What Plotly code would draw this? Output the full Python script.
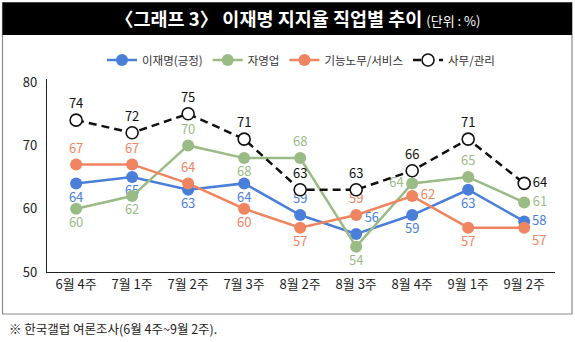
import plotly.graph_objects as go

# Survey weeks (x categories)
weeks = ["6월 4주", "7월 1주", "7월 2주", "7월 3주", "8월 2주", "8월 3주", "8월 4주", "9월 1주", "9월 2주"]

# Approval rates by occupation (%)
overall = [64, 65, 63, 64, 59, 56, 59, 63, 58]          # 이재명(긍정)
self_employed = [60, 62, 70, 68, 68, 54, 64, 65, 61]    # 자영업
labor_service = [67, 67, 64, 60, 57, 59, 62, 57, 57]    # 기능노무/서비스
office_mgmt = [74, 72, 75, 71, 63, 63, 66, 71, 64]      # 사무/관리

y_ticks = [50, 60, 70, 80]

# Label placement for each point (None = placed separately as an annotation)
pos_overall = ["bottom center", "bottom center", "bottom center", "bottom center", "top center",
               "top right", "bottom center", "bottom center", None]
pos_self = ["bottom center", "bottom center", "top center", "bottom center", "top center",
            "bottom center", "middle left", "top center", "middle right"]
pos_labor = ["top center", "top center", "top center", "bottom center", "bottom center",
             "top center", "middle right", "bottom center", None]
pos_office = ["top center"] * 8 + ["middle right"]

# Nudges (pixels) for the crowded labels at the last week
nudge_overall = {8: 2}
nudge_labor = {8: -12}

BLUE = "#4a7fd9"
GREEN = "#9bbb86"
ORANGE = "#ee8560"
BLACK = "#111111"
FONT = "Noto Sans CJK KR"

# plot area in pixels: x 47..555, y 79..272
PX_L, PX_R, PX_T, PX_B = 47, 555, 79, 272
PW, PH = PX_R - PX_L, PX_B - PX_T


def px_x(px):
    return (px - PX_L) / PW


def px_y(py):
    return (PX_B - py) / PH


fig = go.Figure()
label_notes = []


def add_series(name, values, color, positions, dash=None, open_marker=False, nudges=None):
    texts = [str(v) if p is not None else "" for v, p in zip(values, positions)]
    tpos = [p if p is not None else "middle right" for p in positions]
    fig.add_trace(go.Scatter(
        x=weeks, y=values, name=name,
        mode="lines+markers+text",
        text=texts,
        textposition=tpos,
        textfont=dict(family=FONT, size=13, color=color),
        line=dict(color=color, width=2.5, dash=dash),
        marker=dict(
            size=12,
            color="white" if open_marker else color,
            line=dict(color=color, width=1.6 if open_marker else 0),
        ),
        cliponaxis=False,
    ))
    for i, shift in (nudges or {}).items():
        label_notes.append(dict(
            x=weeks[i], y=values[i], xref="x", yref="y",
            text=str(values[i]), showarrow=False,
            xanchor="left", yanchor="middle", xshift=7, yshift=shift,
            borderpad=0,
            font=dict(family=FONT, size=13, color=color),
        ))


add_series("이재명(긍정)", overall, BLUE, pos_overall, nudges=nudge_overall)
add_series("자영업", self_employed, GREEN, pos_self)
add_series("기능노무/서비스", labor_service, ORANGE, pos_labor, nudges=nudge_labor)
add_series("사무/관리", office_mgmt, BLACK, pos_office, dash="8px,5px", open_marker=True)

fig.update_layout(
    width=575, height=342,
    margin=dict(l=PX_L, r=575 - PX_R, t=PX_T, b=342 - PX_B),
    paper_bgcolor="white",
    plot_bgcolor="white",
    font=dict(family=FONT, size=13, color="#222222"),
    showlegend=True,
    legend=dict(
        orientation="h",
        x=0.5, xanchor="center",
        y=px_y(60), yanchor="middle",
        font=dict(family=FONT, size=11.5, color="#333333"),
        itemwidth=30,
        tracegroupgap=0,
        bgcolor="rgba(0,0,0,0)",
    ),
    xaxis=dict(
        type="category",
        range=[-0.52, 8.55],
        showgrid=False,
        zeroline=False,
        showline=True, linecolor="#222222", linewidth=1.2,
        ticks="",
        tickfont=dict(family=FONT, size=13, color="#222222"),
    ),
    yaxis=dict(
        range=[50, 80.5],
        tickvals=y_ticks,
        showgrid=False,
        zeroline=False,
        showline=True, linecolor="#222222", linewidth=1.2,
        ticks="",
        ticklabelstandoff=6,
        tickfont=dict(family=FONT, size=13, color="#222222"),
    ),
    shapes=[
        # outer frame
        dict(type="rect", xref="paper", yref="paper",
             x0=px_x(2.5), x1=px_x(572), y0=px_y(314), y1=px_y(2.5),
             line=dict(color="#8a8a8a", width=1.2), fillcolor="rgba(0,0,0,0)", layer="below"),
        # title band
        dict(type="rect", xref="paper", yref="paper",
             x0=px_x(2.5), x1=px_x(572), y0=px_y(35), y1=px_y(2.5),
             line=dict(color="#000000", width=0), fillcolor="#000000", layer="below"),
    ],
    annotations=label_notes + [
        dict(xref="paper", yref="paper", x=px_x(297), y=px_y(18),
             xanchor="center", yanchor="middle", showarrow=False,
             text="<b>〈그래프 3〉 이재명 지지율 직업별 추이</b> <span style='font-size:13px'>(단위 : %)</span>",
             font=dict(family=FONT, size=18.5, color="white")),
        dict(xref="paper", yref="paper", x=px_x(7), y=px_y(328),
             xanchor="left", yanchor="middle", showarrow=False,
             text="※ 한국갤럽 여론조사(6월 4주~9월 2주).",
             font=dict(family=FONT, size=12.5, color="#222222")),
    ],
)

fig.write_html("out.html")
